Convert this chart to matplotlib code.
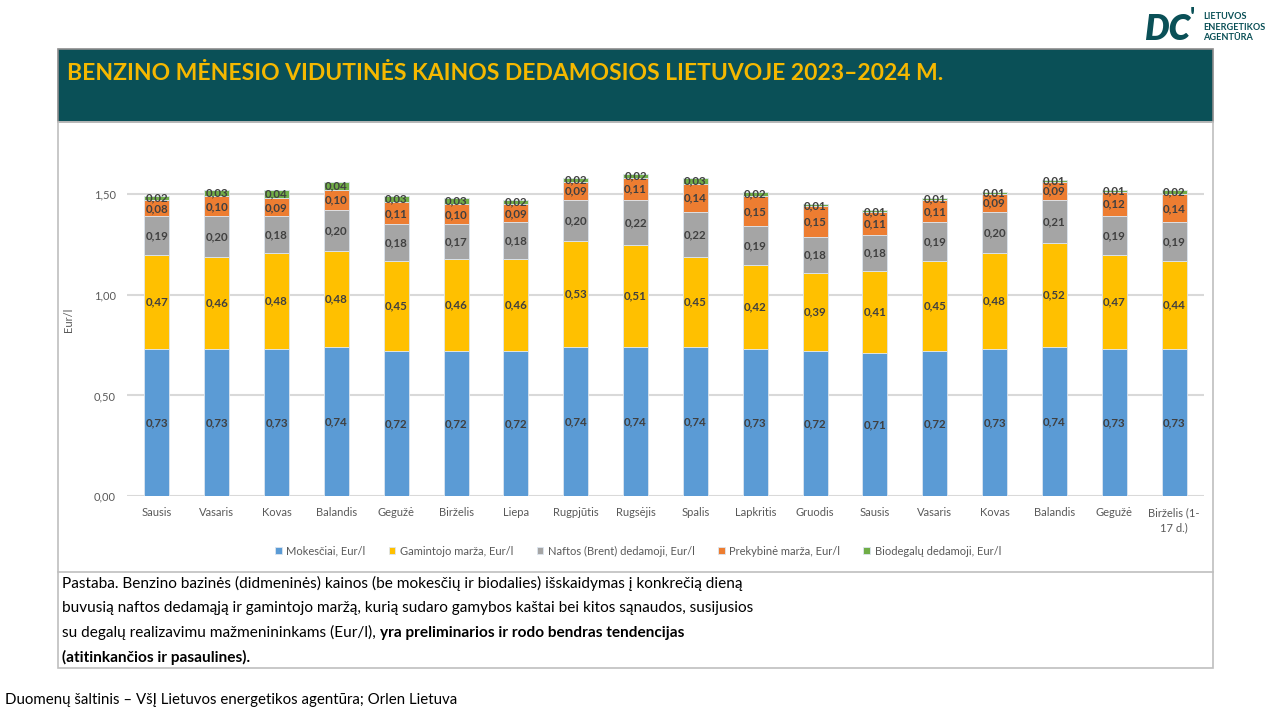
import matplotlib.pyplot as plt
import numpy as np
from matplotlib import font_manager
from matplotlib.patches import Rectangle

# fonts: prefer a narrow face (closer to Calibri), otherwise Lato
names = {f.name for f in font_manager.fontManager.ttflist}
fam = "Liberation Sans Narrow" if "Liberation Sans Narrow" in names else "Lato"
plt.rcParams["font.family"] = [fam, "DejaVu Sans"]

W, H = 1270, 711

months = ["Sausis", "Vasaris", "Kovas", "Balandis", "Gegužė", "Birželis", "Liepa",
          "Rugpjūtis", "Rugsėjis", "Spalis", "Lapkritis", "Gruodis", "Sausis",
          "Vasaris", "Kovas", "Balandis", "Gegužė", "Birželis (1-\n17 d.)"]

mokesciai = [0.73, 0.73, 0.73, 0.74, 0.72, 0.72, 0.72, 0.74, 0.74, 0.74, 0.73, 0.72,
             0.71, 0.72, 0.73, 0.74, 0.73, 0.73]
gamintojo = [0.47, 0.46, 0.48, 0.48, 0.45, 0.46, 0.46, 0.53, 0.51, 0.45, 0.42, 0.39,
             0.41, 0.45, 0.48, 0.52, 0.47, 0.44]
naftos = [0.19, 0.20, 0.18, 0.20, 0.18, 0.17, 0.18, 0.20, 0.22, 0.22, 0.19, 0.18,
          0.18, 0.19, 0.20, 0.21, 0.19, 0.19]
prekybine = [0.08, 0.10, 0.09, 0.10, 0.11, 0.10, 0.09, 0.09, 0.11, 0.14, 0.15, 0.15,
             0.11, 0.11, 0.09, 0.09, 0.12, 0.14]
biodegalu = [0.02, 0.03, 0.04, 0.04, 0.03, 0.03, 0.02, 0.02, 0.02, 0.03, 0.02, 0.01,
             0.01, 0.01, 0.01, 0.01, 0.01, 0.02]

series = [
    ("Mokesčiai, Eur/l", mokesciai, "#5B9BD5"),
    ("Gamintojo marža, Eur/l", gamintojo, "#FFC000"),
    ("Naftos (Brent) dedamoji, Eur/l", naftos, "#A5A5A5"),
    ("Prekybinė marža, Eur/l", prekybine, "#ED7D31"),
    ("Biodegalų dedamoji, Eur/l", biodegalu, "#70AD47"),
]

teal = "#0A5057"
txt = "#595959"


def fx(x):
    return x / W


def fy(y):
    return 1 - y / H


fig = plt.figure(figsize=(12.7, 7.11), dpi=100)

# frame: header, chart panel, note panel
fig.patches.append(Rectangle((fx(58), fy(122)), fx(1213) - fx(58), fy(49) - fy(122),
                             transform=fig.transFigure, facecolor=teal,
                             edgecolor="#8C8C8C", lw=1.2, zorder=0))
fig.patches.append(Rectangle((fx(58), fy(668)), fx(1213) - fx(58), fy(122) - fy(668),
                             transform=fig.transFigure, facecolor="none",
                             edgecolor="#BFBFBF", lw=1.2, zorder=0))
fig.lines.append(plt.Line2D([fx(58), fx(1213)], [fy(572), fy(572)],
                            transform=fig.transFigure, color="#BFBFBF", lw=1.2))

fig.text(fx(67), fy(73), "BENZINO MĖNESIO VIDUTINĖS KAINOS DEDAMOSIOS LIETUVOJE 2023–2024 M.",
         color="#F5B800", fontsize=16.5, fontweight="bold", va="center", ha="left")

# logo
fig.text(fx(1144), fy(29), "DC", color=teal, fontsize=25, fontweight="heavy",
         va="center", ha="left", fontstyle="italic")
fig.text(fx(1190), fy(18), "'", color=teal, fontsize=18, fontweight="bold", va="center")
fig.text(fx(1203), fy(27), "LIETUVOS\nENERGETIKOS\nAGENTŪRA", color=teal, fontsize=6.6,
         fontweight="bold", va="center", ha="left", linespacing=1.15)

# chart
ax = fig.add_axes([fx(127), fy(496), fx(1204) - fx(127), fy(144) - fy(496)])
x = np.arange(len(months))
bottom = np.zeros(len(months))
handles = []
for label, vals, color in series:
    vals = np.array(vals)
    bars = ax.bar(x, vals, 0.42, bottom=bottom, color=color, edgecolor="#DDE6F0",
                  linewidth=0.6, label=label, zorder=3)
    handles.append(bars)
    for xi, b, v in zip(x, bottom, vals):
        ax.text(xi, b + v / 2, f"{v:.2f}".replace(".", ","), ha="center", va="center",
                fontsize=8.3, fontweight="bold", color="#404040", zorder=4)
    bottom += vals

ax.set_xlim(-0.5, len(months) - 0.5)
ax.set_ylim(0, 1.75)
ax.set_yticks([0, 0.5, 1.0, 1.5])
ax.set_yticklabels(["0,00", "0,50", "1,00", "1,50"])
ax.yaxis.grid(True, color="#D9D9D9", lw=1.5, zorder=0)
ax.set_axisbelow(True)
ax.set_xticks(x)
ax.set_xticklabels(months, fontsize=8, color=txt, linespacing=1.5)
ax.tick_params(axis="y", labelsize=8, colors=txt, length=0, pad=8)
ax.tick_params(axis="x", length=0, pad=8)
for s in ax.spines.values():
    s.set_visible(False)
ax.set_ylabel("Eur/l", fontsize=8, color=txt, labelpad=14)

fig.legend(handles=handles, loc="center", bbox_to_anchor=(fx(638), fy(551)), ncol=5,
           frameon=False, fontsize=8, labelcolor=txt, handlelength=0.6, handleheight=0.6,
           handletextpad=0.4, columnspacing=2.1)

# note
note_size = 11.1
lines = [
    "Pastaba. Benzino bazinės (didmeninės) kainos (be mokesčių ir biodalies) išskaidymas į konkrečią dieną",
    "buvusią naftos dedamąją ir gamintojo maržą, kurią sudaro gamybos kaštai bei kitos sąnaudos, susijusios",
]
for i, line in enumerate(lines):
    fig.text(fx(62), fy(583 + 24.7 * i), line, fontsize=note_size, va="center", color="black")
t3 = fig.text(fx(62), fy(632.5), "su degalų realizavimu mažmenininkams (Eur/l), ", fontsize=note_size,
              va="center", color="black")
fig.canvas.draw()
bb = t3.get_window_extent()
fig.text(bb.x1 / W, fy(632.5), "yra preliminarios ir rodo bendras tendencijas",
         fontsize=note_size, va="center", fontweight="bold", color="black")
fig.text(fx(62), fy(657), "(atitinkančios ir pasaulines).", fontsize=note_size, va="center",
         fontweight="bold", color="black")

fig.text(fx(5), fy(700), "Duomenų šaltinis – VšĮ Lietuvos energetikos agentūra; Orlen Lietuva",
         fontsize=10.8, va="center", color="black")

fig.savefig("out.png", dpi=100)
